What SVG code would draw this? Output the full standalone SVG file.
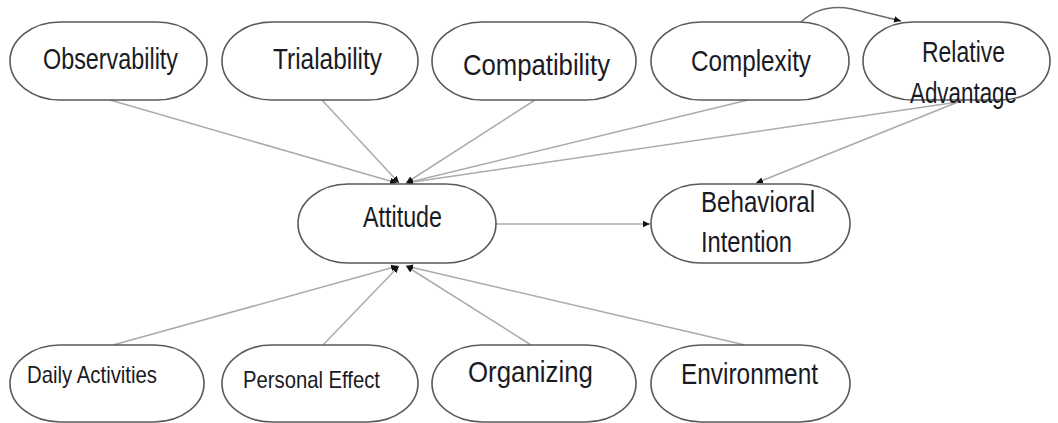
<svg xmlns="http://www.w3.org/2000/svg" width="1058" height="423" viewBox="0 0 1058 423">
  <style>
    .node rect { fill: #ffffff; stroke: #5a5a5a; stroke-width: 1.6; }
    .node text { font-family: "Liberation Sans", Arial, sans-serif; fill: #1a1a24; }
    .big { font-size: 30px; }
    .small { font-size: 24px; }
    .edge { fill: none; stroke: #ababab; stroke-width: 1.5; }
    .edge.dark { stroke: #6a6a6a; }
  </style>
  <defs>
    <marker id="arrow" markerUnits="userSpaceOnUse" markerWidth="8" markerHeight="8" refX="7" refY="4" orient="auto">
      <path d="M0,0.8 L7,4 L0,7.2 Z" fill="#111111"/>
    </marker>
  </defs>

  <rect width="1058" height="423" fill="#ffffff"/>

  <!-- connectors -->
  <g id="connectors">
    <line class="edge" x1="110" y1="100" x2="397" y2="183" marker-end="url(#arrow)"/>
    <line class="edge" x1="322" y1="100" x2="399" y2="183" marker-end="url(#arrow)"/>
    <line class="edge" x1="535" y1="100" x2="406" y2="183" marker-end="url(#arrow)"/>
    <line class="edge" x1="748" y1="100" x2="406" y2="183" marker-end="url(#arrow)"/>
    <line class="edge" x1="958" y1="102" x2="406" y2="183" marker-end="url(#arrow)"/>
    <line class="edge" x1="958" y1="102" x2="756" y2="183" marker-end="url(#arrow)"/>
    <path class="edge dark" d="M801,22 C815,9 832,5 852,9 L901,21" marker-end="url(#arrow)"/>
    <line class="edge" x1="496" y1="224" x2="650" y2="224" marker-end="url(#arrow)"/>
    <line class="edge" x1="113" y1="345" x2="398" y2="266" marker-end="url(#arrow)"/>
    <line class="edge" x1="323" y1="345" x2="399" y2="266" marker-end="url(#arrow)"/>
    <line class="edge" x1="531" y1="345" x2="406" y2="266" marker-end="url(#arrow)"/>
    <line class="edge" x1="745" y1="345" x2="406" y2="266" marker-end="url(#arrow)"/>
  </g>

  <!-- top row -->
  <g id="observability" class="node">
    <rect x="10" y="22" width="197" height="78" rx="50" ry="39"/>
    <text class="big" x="43" y="69" textLength="135" lengthAdjust="spacingAndGlyphs">Observability</text>
  </g>
  <g id="trialability" class="node">
    <rect x="222" y="22" width="196" height="78" rx="50" ry="39"/>
    <text class="big" x="273" y="69" textLength="109" lengthAdjust="spacingAndGlyphs">Trialability</text>
  </g>
  <g id="compatibility" class="node">
    <rect x="432" y="22" width="204" height="78" rx="50" ry="39"/>
    <text class="big" x="463" y="75" textLength="147" lengthAdjust="spacingAndGlyphs">Compatibility</text>
  </g>
  <g id="complexity" class="node">
    <rect x="651" y="22" width="198" height="78" rx="50" ry="39"/>
    <text class="big" x="691" y="71" textLength="120" lengthAdjust="spacingAndGlyphs">Complexity</text>
  </g>
  <g id="relative-advantage" class="node">
    <rect x="863" y="22" width="187" height="78" rx="50" ry="39"/>
    <text class="big" x="922" y="62" textLength="83" lengthAdjust="spacingAndGlyphs">Relative</text>
    <text class="big" x="910" y="103" textLength="107" lengthAdjust="spacingAndGlyphs">Advantage</text>
  </g>

  <!-- middle row -->
  <g id="attitude" class="node">
    <rect x="298" y="184" width="198" height="79" rx="50" ry="39.5"/>
    <text class="big" x="363" y="227" textLength="79" lengthAdjust="spacingAndGlyphs">Attitude</text>
  </g>
  <g id="behavioral-intention" class="node">
    <rect x="651" y="184" width="199" height="79" rx="50" ry="39.5"/>
    <text class="big" x="701" y="212" textLength="114" lengthAdjust="spacingAndGlyphs">Behavioral</text>
    <text class="big" x="701" y="252" textLength="91" lengthAdjust="spacingAndGlyphs">Intention</text>
  </g>

  <!-- bottom row -->
  <g id="daily-activities" class="node">
    <rect x="10" y="345" width="194" height="77" rx="50" ry="38.5"/>
    <text class="small" x="27" y="383" textLength="130" lengthAdjust="spacingAndGlyphs">Daily Activities</text>
  </g>
  <g id="personal-effect" class="node">
    <rect x="222" y="345" width="196" height="77" rx="50" ry="38.5"/>
    <text class="small" x="243" y="388" textLength="137" lengthAdjust="spacingAndGlyphs">Personal Effect</text>
  </g>
  <g id="organizing" class="node">
    <rect x="432" y="345" width="204" height="77" rx="50" ry="38.5"/>
    <text class="big" x="468" y="382" textLength="125" lengthAdjust="spacingAndGlyphs">Organizing</text>
  </g>
  <g id="environment" class="node">
    <rect x="651" y="345" width="199" height="77" rx="50" ry="38.5"/>
    <text class="big" x="681" y="384" textLength="137" lengthAdjust="spacingAndGlyphs">Environment</text>
  </g>
</svg>
